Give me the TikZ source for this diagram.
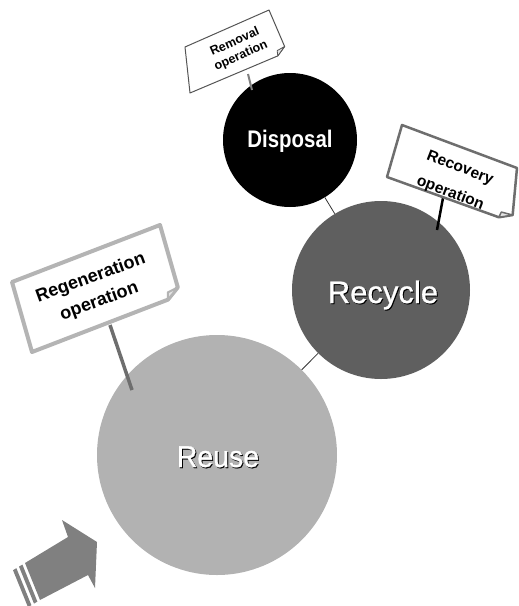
\documentclass[tikz,border=0pt]{standalone}
\usepackage{fontspec}
\usepackage{graphicx}
\newfontfamily\arial{Liberation Sans}
\newfontfamily\arialheavy[FakeBold=0.9]{Liberation Sans}
\usetikzlibrary{calc}
\definecolor{reusegray}{HTML}{B2B2B2}
\definecolor{recyclegray}{HTML}{5F5F5F}
\definecolor{arrowgray}{HTML}{808080}
\definecolor{regborder}{HTML}{B4B4B4}
\definecolor{recborder}{HTML}{6E6E6E}
\definecolor{remborder}{HTML}{555555}
\definecolor{linkgray}{HTML}{333333}
\newcommand\shadowed[1]{\makebox[0pt][l]{\kern1pt\raisebox{-1pt}{\color{black}#1}}#1}
\tikzset{
  bubble/.style={circle, inner sep=0pt, draw=none},
  bubbletext/.style={text=white, inner sep=0pt, anchor=base},
  link/.style={draw=linkgray, line width=0.8pt},
  signtext/.style={align=center, inner sep=0pt, text=black},
  fold/.style={fill=gray!20, line join=round},
}
\begin{document}
\begin{tikzpicture}[x=1pt,y=-1pt]
\useasboundingbox (0,0) rectangle (519,606);

% circles
\node[bubble, fill=black, minimum size=134pt] (disposal) at (290,140) {};
\node[bubble, fill=recyclegray, minimum size=178pt] (recycle) at (381,290) {};
\node[bubble, fill=reusegray, minimum size=240pt] (reuse) at (217,455) {};

\draw[link] (disposal) -- (recycle);
\draw[link] (recycle) -- (reuse);

\node[bubbletext, font=\arial\bfseries\fontsize{24}{28}\selectfont] (disptext) at ($(disposal.center)+(0,7)$) {\scalebox{0.85}[1]{\shadowed{Disposal}}};
\node[bubbletext, font=\arialheavy\fontsize{31}{36}\selectfont] (recytext) at ($(recycle.center)+(2,13)$) {\shadowed{Recycle}};
\node[bubbletext, font=\arialheavy\fontsize{30}{36}\selectfont] (reusetext) at ($(reuse.center)+(1,12)$) {\scalebox{0.95}[1]{\shadowed{Reuse}}};

% poles
\coordinate (rgPtop) at (110,325);
\coordinate (rgPbot) at (132,390);
\draw[draw=recborder, line width=3.5pt] (rgPtop) -- (rgPbot);
\coordinate (rcPtop) at (443,198);
\coordinate (rcPbot) at (437,230);
\draw[draw=black, line width=2.5pt] (rcPtop) -- (rcPbot);
\coordinate (rmPtop) at (248,74);
\coordinate (rmPbot) at (252,90);
\draw[draw=arrowgray, line width=2pt] (rmPtop) -- (rmPbot);

% Regeneration sign
\coordinate (rgTL) at (12,282);
\coordinate (rgTR) at (160,225);
\coordinate (rgBR) at (180,295);
\coordinate (rgBL) at (32,352);
\coordinate (rgA) at ($(rgBR)!8pt!(rgTR)$);
\coordinate (rgB) at ($(rgBR)!13pt!(rgBL)$);
\coordinate (rgC) at ($(rgBR)!1.7!($(rgA)!0.5!(rgB)$)$);
\draw[draw=regborder, line width=4pt, fill=white, line join=round] (rgTL) -- (rgTR) -- (rgA) -- (rgB) -- (rgBL) -- cycle;
\draw[draw=regborder, line width=2pt, fold] (rgA) -- (rgC) -- (rgB) -- cycle;
\node[signtext, rotate=20, font=\arial\bfseries\fontsize{18}{25}\selectfont] (regtext) at (95,290) {Regeneration\\operation};

% Recovery sign
\coordinate (rcTL) at (402,125);
\coordinate (rcTR) at (517,168);
\coordinate (rcBR) at (512,222);
\coordinate (rcBL) at (387,177);
\coordinate (rcA) at ($(rcBR)!7pt!(rcTR)$);
\coordinate (rcB) at ($(rcBR)!14pt!(rcBL)$);
\coordinate (rcC) at ($(rcBR)!1.7!($(rcA)!0.5!(rcB)$)$);
\draw[draw=recborder, line width=2.5pt, fill=white, line join=round] (rcTL) -- (rcTR) -- (rcA) -- (rcB) -- (rcBL) -- cycle;
\draw[draw=recborder, line width=1.5pt, fold] (rcA) -- (rcC) -- (rcB) -- cycle;
\node[signtext, rotate=-21, font=\arial\bfseries\fontsize{15.5}{27}\selectfont] (rectext) at (455,181) {Recovery\\operation};

% Removal sign
\coordinate (rmTL) at (185,47);
\coordinate (rmTR) at (269,10);
\coordinate (rmBR) at (287,52);
\coordinate (rmBL) at (190,93);
\coordinate (rmA) at ($(rmBR)!6pt!(rmTR)$);
\coordinate (rmB) at ($(rmBR)!10pt!(rmBL)$);
\coordinate (rmC) at ($(rmBR)!1.7!($(rmA)!0.5!(rmB)$)$);
\draw[draw=remborder, line width=1pt, fill=white, line join=round] (rmTL) -- (rmTR) -- (rmA) -- (rmB) -- (rmBL) -- cycle;
\draw[draw=remborder, line width=0.8pt, fold] (rmA) -- (rmC) -- (rmB) -- cycle;
\node[signtext, rotate=24, font=\arial\bfseries\fontsize{12.5}{15}\selectfont] (remtext) at (238,49) {Removal\\operation};

% entry arrow
\fill[arrowgray] (62,520) -- (97,542) -- (95,588) -- (88,575) -- (40,600) -- (25,563) -- (68,537) -- cycle;
\fill[arrowgray] (22.4,564.6) -- (19,566.6) -- (34,603.6) -- (37.4,601.6) -- cycle;
\fill[arrowgray] (16.4,568.2) -- (13,570.2) -- (28,607.2) -- (31.4,605.2) -- cycle;
\end{tikzpicture}
\end{document}
